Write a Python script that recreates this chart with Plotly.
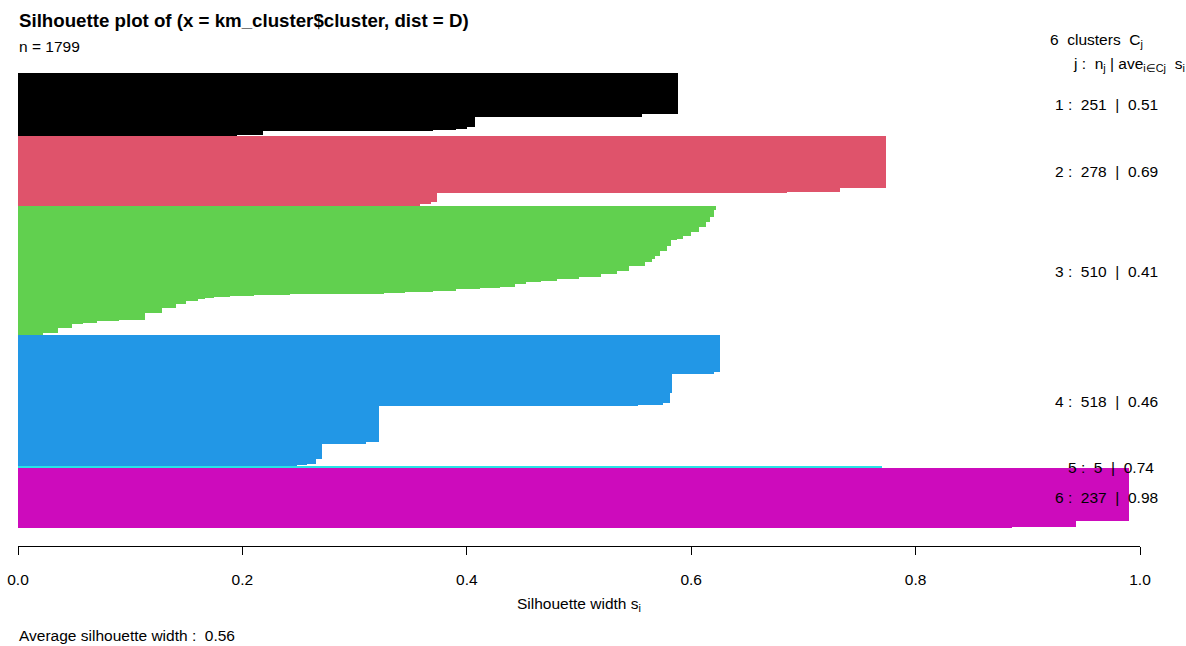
import numpy as np
import plotly.graph_objects as go

# ---------------- data ----------------
cluster_ids = [1, 2, 3, 4, 5, 6]
cluster_colors = ["#000000", "#DF536B", "#61D04F", "#2297E6", "#28E2E5", "#CD0BBC"]
cluster_sizes = [251, 278, 510, 518, 5, 237]
cluster_avg = [0.51, 0.69, 0.41, 0.46, 0.74, 0.98]
n_total = 1799
avg_width = 0.56

# silhouette widths per cluster as runs (value, count), sorted decreasing
c1_vals = [0.588, 0.556, 0.52, 0.407, 0.40, 0.39, 0.37, 0.218, 0.195]
c1_counts = [160, 12, 1, 40, 8, 4, 3, 16, 7]

c2_vals = [0.774, 0.733, 0.685, 0.373, 0.368, 0.358, 0.346, 0.332]
c2_counts = [201, 17, 4, 33, 9, 7, 5, 2]

c3_vals = [0.622, 0.620, 0.617, 0.613, 0.607, 0.600, 0.593, 0.587, 0.582, 0.578,
           0.572, 0.568, 0.565, 0.559, 0.545, 0.534, 0.520, 0.500, 0.480, 0.466,
           0.453, 0.443, 0.430, 0.412, 0.390, 0.370, 0.345, 0.326, 0.242, 0.210,
           0.189, 0.175, 0.167, 0.160, 0.150, 0.141, 0.128, 0.113, 0.090, 0.070,
           0.058, 0.048, 0.036, 0.022]
c3_counts = [11, 27, 20, 20, 20, 17, 9, 7, 20, 20,
             20, 13, 13, 16, 17, 13, 11, 8, 8, 7,
             7, 11, 5, 5, 5, 4, 4, 5, 3, 3,
             4, 4, 4, 9, 11, 18, 21, 26, 5, 5,
             5, 18, 18, 13]

c4_vals = [0.626, 0.620, 0.583, 0.581, 0.575, 0.553, 0.505, 0.322, 0.310, 0.271,
           0.266, 0.258, 0.249, 0.195]
c4_counts = [140, 10, 75, 39, 7, 4, 3, 140, 8, 62, 20, 4, 4, 2]

c5_vals = [0.77, 0.61]
c5_counts = [4, 1]

c6_vals = [0.990, 0.943, 0.886, 0.773]
c6_counts = [208, 22, 4, 3]

run_vals = [c1_vals, c2_vals, c3_vals, c4_vals, c5_vals, c6_vals]
run_counts = [c1_counts, c2_counts, c3_counts, c4_counts, c5_counts, c6_counts]

x_ticks = [0.0, 0.2, 0.4, 0.6, 0.8, 1.0]
x_tick_labels = ["0.0", "0.2", "0.4", "0.6", "0.8", "1.0"]

# ---------------- figure ----------------
W, H = 1186, 646
FONT = "Liberation Sans, Arial, Helvetica, sans-serif"
FS = 15.5


def px_x(p):
    return p / W


def px_y(p):
    return 1 - p / H


fig = go.Figure()

gap = 0.5
pos = 0.0
centers_per_cluster = []
for cid, col, vals, cnts in zip(cluster_ids, cluster_colors, run_vals, run_counts):
    s = np.repeat(np.array(vals, dtype=float), np.array(cnts))
    yc = pos + np.arange(len(s)) + 0.5
    centers_per_cluster.append(yc)
    pos += len(s) + gap
    fig.add_trace(go.Bar(
        x=s, y=yc, orientation="h", width=1.0,
        marker=dict(color=col, line=dict(width=0)),
        hoverinfo="x", showlegend=False, name=f"cluster {cid}",
    ))

T = pos - gap
pad = 0.04 * T

fig.update_layout(
    width=W, height=H, autosize=False,
    margin=dict(l=0, r=0, t=0, b=0, pad=0, autoexpand=False),
    paper_bgcolor="white", plot_bgcolor="white",
    bargap=0, barmode="overlay",
    font=dict(family=FONT, color="black", size=FS),
    xaxis=dict(
        domain=[px_x(18), px_x(1140)], range=[0, 1],
        tickvals=x_ticks, ticktext=x_tick_labels,
        showline=True, linecolor="black", linewidth=1,
        ticks="outside", ticklen=8, tickwidth=1, tickcolor="black",
        showgrid=False, zeroline=False, ticklabelstandoff=11,
        automargin=False,
        tickfont=dict(size=FS, family=FONT, color="black"),
    ),
    yaxis=dict(
        domain=[px_y(546), px_y(55)], range=[T + pad, -pad],
        showticklabels=False, showgrid=False, zeroline=False,
        showline=False, ticks="", automargin=False,
    ),
)

ann = []
ann.append(dict(text="<b>Silhouette plot of (x = km_cluster$cluster, dist = D)</b>",
                x=px_x(17), y=px_y(20), xref="paper", yref="paper",
                xanchor="left", yanchor="middle", showarrow=False,
                font=dict(size=18.7, family=FONT)))
ann.append(dict(text=f"n = {n_total}",
                x=px_x(17), y=px_y(46), xref="paper", yref="paper",
                xanchor="left", yanchor="middle", showarrow=False,
                font=dict(size=FS, family=FONT)))
ann.append(dict(text=f"{len(cluster_ids)}\u00a0 clusters\u00a0 C<sub>j</sub>",
                x=px_x(1048), y=px_y(41), xref="paper", yref="paper",
                xanchor="left", yanchor="middle", showarrow=False,
                font=dict(size=FS, family=FONT)))
ann.append(dict(text="j :\u00a0 n<sub>j</sub> | ave<sub>i\u2208Cj</sub>\u00a0 s<sub>i</sub>",
                x=px_x(1071), y=px_y(64), xref="paper", yref="paper",
                xanchor="left", yanchor="middle", showarrow=False,
                font=dict(size=FS, family=FONT)))

for cid, n, a, yc in zip(cluster_ids, cluster_sizes, cluster_avg, centers_per_cluster):
    label = f"{cid} :\u00a0 {n}\u00a0 |\u00a0 {a:.2f}"
    w_est = 6.5 * len(label)
    ann.append(dict(text=label, x=1.0, y=float(yc.mean()), xref="x", yref="y",
                    xanchor="center", yanchor="middle", xshift=-0.3 * w_est,
                    showarrow=False, font=dict(size=FS, family=FONT)))

ann.append(dict(text="Silhouette width s<sub>i</sub>",
                x=px_x(579), y=px_y(604), xref="paper", yref="paper",
                xanchor="center", yanchor="middle", showarrow=False,
                font=dict(size=FS, family=FONT)))
ann.append(dict(text=f"Average silhouette width :\u00a0 {avg_width:.2f}",
                x=px_x(17), y=px_y(635), xref="paper", yref="paper",
                xanchor="left", yanchor="middle", showarrow=False,
                font=dict(size=FS, family=FONT)))

fig.update_layout(annotations=ann)
fig.write_html("out.html")
